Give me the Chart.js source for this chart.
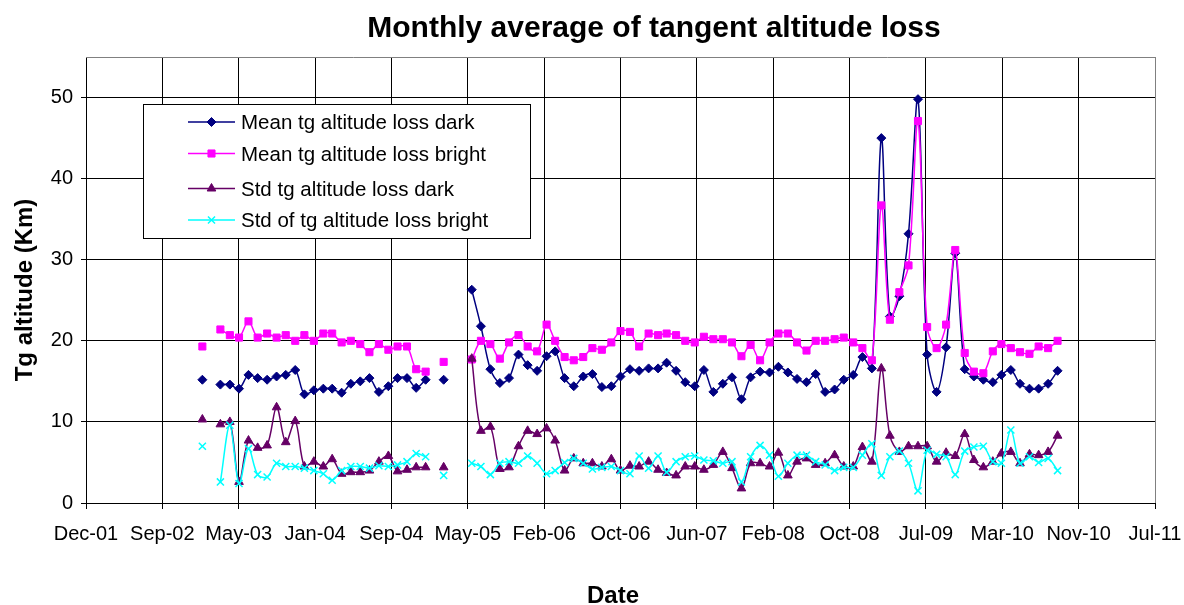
<!DOCTYPE html>
<html>
<head>
<meta charset="utf-8">
<script src="https://cdn.jsdelivr.net/npm/chart.js@4/dist/chart.umd.min.js"></script>
<style>
  html, body { margin: 0; padding: 0; background: #ffffff; }
  #wrap { width: 1184px; height: 605px; }
</style>
</head>
<body>
<div id="wrap"><canvas id="c" width="1184" height="605"></canvas></div>
<script>
// ---------------- texts ----------------
const chartTitle = 'Monthly average of tangent altitude loss';
const xTitle = 'Date';
const yTitle = 'Tg altitude (Km)';
const seriesNames = ['Mean tg altitude loss dark', 'Mean tg altitude loss bright', 'Std tg altitude loss dark', 'Std of tg altitude loss bright'];

// ---------------- x axis (date axis, one tick every 250 days) ----------------
const tickLabels = ['Dec-01','Sep-02','May-03','Jan-04','Sep-04','May-05','Feb-06','Oct-06','Jun-07','Feb-08','Oct-08','Jul-09','Mar-10','Nov-10','Jul-11'];
const firstTickDate = [2001, 12, 25];
const tickStepDays = 250;

// ---------------- categories: one sample per month, Jan-2003 .. Sep-2010 ----------------
const firstMonth = [2003, 1];
const sampleDay = 10;

// ---------------- series values (null = month without data) ----------------
const meanDark = [
  15.2, null, 14.6, 14.6, 14.1, 15.8, 15.4, 15.2, 15.6, 15.8,
  16.4, 13.4, 13.9, 14.1, 14.1, 13.6, 14.7, 15.0, 15.4, 13.7,
  14.4, 15.4, 15.4, 14.2, 15.2, null, 15.2, null, null, 26.3,
  21.8, 16.5, 14.8, 15.4, 18.3, 17.0, 16.3, 18.1, 18.7, 15.4,
  14.4, 15.6, 15.9, 14.3, 14.4, 15.6, 16.5, 16.3, 16.6, 16.6,
  17.3, 16.3, 14.9, 14.4, 16.4, 13.7, 14.7, 15.5, 12.8, 15.5,
  16.2, 16.1, 16.8, 16.1, 15.3, 14.9, 15.9, 13.7, 14.0, 15.2,
  15.8, 18.0, 16.6, 45.0, 23.0, 25.5, 33.2, 49.8, 18.3, 13.7,
  19.2, 30.8, 16.5, 15.6, 15.2, 14.9, 15.8, 16.4, 14.7, 14.1,
  14.1, 14.7, 16.3
];
const meanBright = [
  19.3, null, 21.4, 20.7, 20.4, 22.4, 20.4, 20.9, 20.4, 20.7,
  20.0, 20.7, 20.0, 20.9, 20.9, 19.8, 20.0, 19.6, 18.6, 19.6,
  18.9, 19.3, 19.3, 16.5, 16.2, null, 17.4, null, null, 17.7,
  20.0, 19.6, 17.8, 19.8, 20.7, 19.3, 18.7, 22.0, 20.0, 18.0,
  17.6, 18.0, 19.1, 18.9, 19.8, 21.2, 21.1, 19.3, 20.9, 20.7,
  20.9, 20.7, 20.0, 19.8, 20.5, 20.2, 20.2, 19.8, 18.1, 19.5,
  17.6, 19.8, 20.9, 20.9, 19.8, 18.8, 20.0, 20.0, 20.2, 20.4,
  19.8, 19.1, 17.6, 36.7, 22.6, 26.0, 29.3, 47.1, 21.7, 19.1,
  22.0, 31.2, 18.5, 16.2, 16.0, 18.7, 19.6, 19.1, 18.6, 18.4,
  19.3, 19.1, 20.0
];
const stdDark = [
  10.3, null, 9.7, 10.0, 2.6, 7.7, 6.8, 7.1, 11.8, 7.5,
  10.1, 4.5, 5.1, 4.5, 5.4, 3.6, 3.8, 3.8, 4.0, 5.1,
  5.8, 3.9, 4.1, 4.4, 4.4, null, 4.4, null, null, 17.8,
  8.9, 9.4, 4.2, 4.4, 7.0, 8.9, 8.5, 9.2, 7.7, 4.0,
  5.5, 4.9, 4.9, 4.5, 5.4, 4.0, 4.6, 4.5, 5.1, 4.1,
  3.7, 3.4, 4.5, 4.5, 4.1, 4.7, 6.3, 4.3, 1.8, 4.9,
  4.9, 4.5, 6.2, 3.4, 5.1, 5.5, 4.7, 4.9, 5.9, 4.5,
  4.5, 6.9, 5.1, 16.6, 8.3, 6.3, 7.0, 7.0, 7.0, 5.1,
  6.2, 5.8, 8.5, 5.3, 4.4, 5.1, 6.1, 6.3, 4.9, 6.0,
  5.9, 6.3, 8.3
];
const stdBright = [
  7.0, null, 2.6, 9.6, 2.4, 6.7, 3.5, 3.2, 4.9, 4.5,
  4.5, 4.3, 4.0, 3.6, 2.8, 4.0, 4.5, 4.5, 4.3, 4.6,
  4.5, 4.7, 5.1, 6.1, 5.7, null, 3.4, null, null, 4.9,
  4.5, 3.5, 4.9, 5.1, 4.9, 5.8, 4.9, 3.6, 4.0, 5.0,
  5.5, 4.9, 4.2, 4.4, 4.5, 4.0, 3.6, 5.8, 4.3, 5.8,
  3.8, 5.1, 5.7, 5.8, 5.3, 5.2, 4.9, 5.1, 2.6, 5.7,
  7.1, 5.9, 3.3, 4.9, 5.9, 5.9, 5.1, 4.7, 4.0, 4.4,
  4.4, 5.9, 7.3, 3.4, 5.7, 6.4, 4.9, 1.5, 6.5, 6.0,
  5.7, 3.5, 6.4, 6.9, 7.0, 5.1, 4.9, 9.0, 4.9, 5.7,
  5.0, 5.5, 4.0
];

// ---------------- y axis ----------------
const yMin = 0, yMax = 55, yStep = 10;

// ---------------- helpers ----------------
const DAY = 86400000;
const origin = Date.UTC(firstTickDate[0], firstTickDate[1] - 1, firstTickDate[2]);
function monthX(i) {
  const t = Date.UTC(firstMonth[0], firstMonth[1] - 1 + i, sampleDay);
  return Math.round((t - origin) / DAY);
}
function toPoints(values) {
  return values.map((v, i) => ({ x: monthX(i), y: v }));
}

const FONT = "'Liberation Sans', Arial, Helvetica, sans-serif";
Chart.defaults.font.family = FONT;
Chart.defaults.color = '#000000';

const styles = [
  { color: '#000080', pointStyle: 'rectRot', radius: 4.5, pbw: 1 },
  { color: '#FF00FF', pointStyle: 'rect', radius: 5, pbw: 1 },
  { color: '#660066', pointStyle: 'triangle', radius: 5, pbw: 1 },
  { color: '#00FFFF', pointStyle: 'crossRot', radius: 5, pbw: 1.5 }
];
const seriesValues = [meanDark, meanBright, stdDark, stdBright];

const datasets = seriesValues.map((vals, i) => ({
  label: seriesNames[i],
  data: toPoints(vals),
  borderColor: styles[i].color,
  backgroundColor: styles[i].color,
  pointBackgroundColor: styles[i].color,
  pointBorderColor: styles[i].color,
  pointStyle: styles[i].pointStyle,
  pointRadius: styles[i].radius,
  pointBorderWidth: styles[i].pbw,
  borderWidth: 1.5,
  tension: 0.33,
  spanGaps: false,
  fill: false,
  order: 4 - i
}));

// chart title and axis titles, placed where the original has them
const titlesPlugin = {
  id: 'excelTitles',
  afterDraw(chart) {
    const ctx = chart.ctx;
    ctx.save();
    ctx.fillStyle = '#000';
    ctx.font = 'bold 30px ' + FONT;
    ctx.textAlign = 'center';
    ctx.textBaseline = 'alphabetic';
    ctx.fillText(chartTitle, 654, 37);

    ctx.font = 'bold 24px ' + FONT;
    ctx.fillText(xTitle, 613, 602.5);

    ctx.translate(31.5, 290);
    ctx.rotate(-Math.PI / 2);
    ctx.fillText(yTitle, 0, 0);
    ctx.restore();
  }
};

// plot-area border (top edge, gray as in the original)
const borderPlugin = {
  id: 'plotBorder',
  beforeDatasetsDraw(chart) {
    const { ctx, chartArea: a } = chart;
    ctx.save();
    ctx.strokeStyle = '#808080';
    ctx.lineWidth = 1;
    ctx.beginPath();
    ctx.moveTo(a.left, Math.round(a.top) + 0.5);
    ctx.lineTo(a.right, Math.round(a.top) + 0.5);
    ctx.stroke();
    ctx.restore();
  }
};

// Excel-like boxed legend with line + marker samples
const legendPlugin = {
  id: 'excelLegend',
  afterDraw(chart) {
    const ctx = chart.ctx;
    const box = { x: 143.5, y: 104.5, w: 387, h: 134 };
    const rows = [122, 153.5, 188.5, 220];
    ctx.save();
    ctx.fillStyle = '#ffffff';
    ctx.fillRect(box.x, box.y, box.w, box.h);
    ctx.strokeStyle = '#000000';
    ctx.lineWidth = 1;
    ctx.strokeRect(box.x, box.y, box.w, box.h);
    chart.data.datasets.forEach((ds, i) => {
      const y = rows[i];
      ctx.strokeStyle = ds.borderColor;
      ctx.lineWidth = 1.5;
      ctx.beginPath();
      ctx.moveTo(188, y);
      ctx.lineTo(235, y);
      ctx.stroke();
      ctx.fillStyle = ds.pointBackgroundColor;
      ctx.strokeStyle = ds.pointBorderColor;
      ctx.lineWidth = ds.pointBorderWidth;
      Chart.helpers.drawPoint(ctx, { pointStyle: ds.pointStyle, radius: ds.pointRadius, rotation: 0, borderWidth: ds.pointBorderWidth }, 211.5, y);
      ctx.fillStyle = '#000';
      ctx.font = '20.5px ' + FONT;
      ctx.textAlign = 'left';
      ctx.textBaseline = 'alphabetic';
      ctx.fillText(ds.label, 241, y + 7.3);
    });
    ctx.restore();
  }
};

const nTicks = tickLabels.length;

new Chart(document.getElementById('c'), {
  type: 'line',
  data: { datasets },
  options: {
    responsive: false,
    animation: false,
    devicePixelRatio: 1,
    layout: { padding: { left: 0, right: 29, top: 57, bottom: 0 } },
    plugins: {
      legend: { display: false },
      title: { display: false },
      tooltip: { enabled: false }
    },
    scales: {
      x: {
        type: 'linear',
        min: 0,
        max: tickStepDays * (nTicks - 1),
        afterFit(s) { s.height = 102; s.paddingLeft = 0; s.paddingRight = 0; },
        ticks: {
          stepSize: tickStepDays,
          autoSkip: false,
          maxRotation: 0,
          minRotation: 0,
          padding: 13,
          font: { size: 20 },
          color: '#000',
          callback: (v) => tickLabels[Math.round(v / tickStepDays)]
        },
        grid: {
          color: (c) => (c.index === nTicks - 1 ? '#808080' : '#000000'),
          tickColor: '#000000',
          lineWidth: 1,
          tickLength: 6,
          drawTicks: true
        },
        border: { color: '#000000', width: 1 },
        title: { display: false, text: xTitle }
      },
      y: {
        type: 'linear',
        min: yMin,
        max: yMax,
        afterFit(s) { s.width = 86; },
        ticks: {
          stepSize: yStep,
          includeBounds: false,
          padding: 8,
          font: { size: 20 },
          color: '#000'
        },
        grid: {
          color: '#000000',
          lineWidth: 1,
          tickLength: 5,
          drawTicks: true
        },
        border: { color: '#000000', width: 1 },
        title: { display: false, text: yTitle }
      }
    }
  },
  plugins: [borderPlugin, titlesPlugin, legendPlugin]
});
</script>
</body>
</html>
